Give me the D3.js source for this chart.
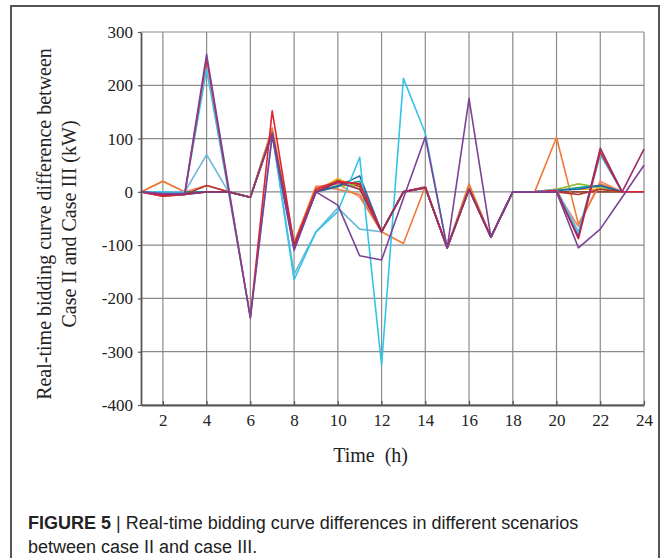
<!DOCTYPE html>
<html lang="en">
<head>
<meta charset="UTF-8">
<title>Figure 5</title>
<script src="https://d3js.org/d3.v7.min.js"></script>
<style>
    body { margin: 0; background: #fff; }
    svg { display: block; }
</style>
</head>
<body>
<svg width="664" height="558"></svg>
<script>
    // hours 1..24
    const hours = d3.range(1, 25);
    const xTicks = [2, 4, 6, 8, 10, 12, 14, 16, 18, 20, 22, 24];
    const yTicks = [300, 200, 100, 0, -100, -200, -300, -400];

    // one array per scenario
    const brown   = [0, -8, -5, 0, 0, -10, 115, -105, 5, 22, 10, -75, 0, 8, -105, 5, -85, 0, 0, 0, 0, 0, 0, 0];
    const salmon  = [0, 20, 0, 12, 0, -10, 115, -100, 10, 15, -10, -75, 0, 10, -105, 12, -85, 0, 0, 0, -65, 20, 0, 0];
    const orange  = [0, 20, 0, 0, 0, -10, 120, -95, 10, 5, -5, -75, -97, 10, -105, 15, -85, 0, 0, 102, -60, 15, 0, 0];
    const yellow  = [0, 0, 0, 0, 0, -10, 110, -100, 0, 25, 5, -75, 0, 8, -105, 5, -85, 0, 0, 5, 5, 5, 0, 0];
    const green   = [0, 0, 0, 0, 0, -10, 110, -100, 0, 10, 15, -75, 0, 8, -105, 5, -85, 0, 0, 5, 15, 8, 0, 0];
    const teal    = [0, 0, 0, 0, 0, -10, 110, -100, 0, 12, 20, -75, 0, 8, -105, 5, -85, 0, 0, 2, 8, 12, 0, 0];
    const navy    = [0, -3, -3, 0, 0, -10, 110, -100, 0, 10, 30, -75, 0, 8, -105, 5, -85, 0, 0, 3, 5, 12, 0, 0];
    const darkred = [0, -5, -5, 12, 0, -10, 110, -105, 0, 18, 15, -75, 0, 8, -105, 5, -85, 0, 0, 0, -5, 5, 0, 0];
    const skyblue = [0, 0, 0, 70, 0, -10, 110, -155, -75, -30, -70, -75, 0, 8, -105, 5, -85, 0, 0, 5, -75, 72, 0, 0];
    const cyan    = [0, 0, -3, 230, 0, -235, 110, -165, -75, -37, 65, -325, 213, 110, -105, 5, -85, 0, 0, 2, -80, 70, 0, 0];
    const red     = [0, -8, -5, 250, 5, -235, 152, -100, 5, 20, 15, -75, 0, 8, -105, 5, -85, 0, 0, 3, -88, 75, 0, 0];
    const plum    = [0, -5, -5, 0, 0, -10, 110, -105, 0, 18, 5, -75, 0, 8, -105, 5, -85, 0, 0, 0, -85, 82, 0, 80];
    const purple  = [0, -3, -3, 258, 10, -237, 105, -110, 0, -25, -120, -128, -12, 103, -105, 175, -85, 0, 0, 0, -105, -70, -10, 50];

    const series = [
        {name: "brown", values: brown, color: "#8b4a38"},
        {name: "salmon", values: salmon, color: "#ee8a6c"},
        {name: "orange", values: orange, color: "#f07a36"},
        {name: "yellow", values: yellow, color: "#f2b21e"},
        {name: "green", values: green, color: "#8cc03e"},
        {name: "teal", values: teal, color: "#13a08c"},
        {name: "navy", values: navy, color: "#2462ae"},
        {name: "darkred", values: darkred, color: "#b2322e"},
        {name: "skyblue", values: skyblue, color: "#6cb6d6"},
        {name: "cyan", values: cyan, color: "#33c4e8"},
        {name: "red", values: red, color: "#e4222e"},
        {name: "plum", values: plum, color: "#9a2c68"},
        {name: "purple", values: purple, color: "#7c4296"}
    ];

    const svg = d3.select("svg");
    const plotL = 141, plotR = 644, plotT = 32, plotB = 405;

    svg.append("rect")
        .attr("x", 11).attr("y", 6)
        .attr("width", 648).attr("height", 600)
        .attr("fill", "#fff")
        .attr("stroke", "#555")
        .attr("stroke-width", 2);

    let x = d3.scaleLinear().domain([1, 24]).range([plotL, plotR]);
    let y = d3.scaleLinear().domain([-400, 300]).range([plotB, plotT]);

    // grid
    let grid = svg.append("g").attr("stroke", "#8a8a8a").attr("stroke-width", 1.2);
    grid.selectAll(".gx")
        .data(xTicks)
        .enter()
        .append("line")
        .attr("x1", d => x(d)).attr("x2", d => x(d))
        .attr("y1", plotT).attr("y2", plotB);
    grid.selectAll(".gy")
        .data(yTicks)
        .enter()
        .append("line")
        .attr("x1", plotL).attr("x2", plotR)
        .attr("y1", d => y(d)).attr("y2", d => y(d));

    // lines
    const line = d3.line()
        .x((d, i) => x(hours[i]))
        .y(d => y(d));

    svg.append("g")
        .selectAll("path")
        .data(series)
        .enter()
        .append("path")
        .attr("d", d => line(d.values))
        .attr("fill", "none")
        .attr("stroke", d => d.color)
        .attr("stroke-width", 1.6)
        .attr("stroke-linejoin", "round");

    // axes (plain hyphen for negatives, like the original)
    let xAxis = svg.append("g")
        .attr("transform", `translate(0,${plotB})`)
        .call(d3.axisBottom(x).tickValues(xTicks).tickSizeInner(-4).tickSizeOuter(0).tickPadding(9));
    let yAxis = svg.append("g")
        .attr("transform", `translate(${plotL},0)`)
        .call(d3.axisLeft(y).tickValues(yTicks).tickFormat(d => String(d))
            .tickSizeInner(3).tickSizeOuter(0).tickPadding(5));

    [xAxis, yAxis].forEach(function (a) {
        a.select(".domain").attr("stroke", "#555").attr("stroke-width", 1.8);
        a.selectAll(".tick line").attr("stroke", "#555").attr("stroke-width", 1.2);
        a.selectAll("text")
            .attr("font-family", "'Liberation Serif', serif")
            .attr("font-size", 17)
            .attr("fill", "#222");
    });

    svg.append("text")
        .attr("x", x(11.5)).attr("y", 462)
        .attr("text-anchor", "middle")
        .attr("font-family", "'Liberation Serif', serif")
        .attr("font-size", 20)
        .attr("fill", "#222")
        .text("Time\u00a0\u00a0(h)");

    let yTitle = svg.append("text")
        .attr("transform", "translate(51,224) rotate(-90)")
        .attr("text-anchor", "middle")
        .attr("font-family", "'Liberation Serif', serif")
        .attr("font-size", 20)
        .attr("fill", "#222");
    yTitle.append("tspan").attr("x", 0).attr("y", 0).text("Real-time bidding curve difference between");
    yTitle.append("tspan").attr("x", 0).attr("y", 25).text("Case II and Case III (kW)");

    // caption
    let cap = svg.append("text")
        .attr("font-family", "'Liberation Sans', Arial, sans-serif")
        .attr("font-size", 18)
        .attr("fill", "#222");
    let l1 = cap.append("tspan").attr("x", 28).attr("y", 529);
    l1.append("tspan").attr("font-weight", "bold").text("FIGURE 5");
    l1.append("tspan").text(" | Real-time bidding curve differences in different scenarios");
    cap.append("tspan").attr("x", 28).attr("y", 553).text("between case II and case III.");
</script>
</body>
</html>
